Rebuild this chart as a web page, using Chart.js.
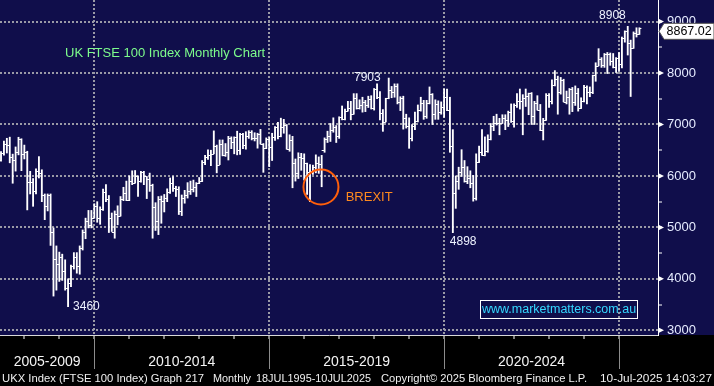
<!DOCTYPE html>
<html>
<head>
<meta charset="utf-8">
<script src="https://cdn.jsdelivr.net/npm/chart.js@4.4.1/dist/chart.umd.min.js"></script>
<style>
html,body{margin:0;padding:0;background:#000;overflow:hidden;}
canvas{display:block;}
</style>
</head>
<body>
<canvas id="chart" width="714" height="386"></canvas>
<script>
// ================= DATA =================
const months = [
'2007-04','2007-05','2007-06','2007-07','2007-08','2007-09','2007-10','2007-11','2007-12',
'2008-01','2008-02','2008-03','2008-04','2008-05','2008-06','2008-07','2008-08','2008-09','2008-10','2008-11','2008-12',
'2009-01','2009-02','2009-03','2009-04','2009-05','2009-06','2009-07','2009-08','2009-09','2009-10','2009-11','2009-12',
'2010-01','2010-02','2010-03','2010-04','2010-05','2010-06','2010-07','2010-08','2010-09','2010-10','2010-11','2010-12',
'2011-01','2011-02','2011-03','2011-04','2011-05','2011-06','2011-07','2011-08','2011-09','2011-10','2011-11','2011-12',
'2012-01','2012-02','2012-03','2012-04','2012-05','2012-06','2012-07','2012-08','2012-09','2012-10','2012-11','2012-12',
'2013-01','2013-02','2013-03','2013-04','2013-05','2013-06','2013-07','2013-08','2013-09','2013-10','2013-11','2013-12',
'2014-01','2014-02','2014-03','2014-04','2014-05','2014-06','2014-07','2014-08','2014-09','2014-10','2014-11','2014-12',
'2015-01','2015-02','2015-03','2015-04','2015-05','2015-06','2015-07','2015-08','2015-09','2015-10','2015-11','2015-12',
'2016-01','2016-02','2016-03','2016-04','2016-05','2016-06','2016-07','2016-08','2016-09','2016-10','2016-11','2016-12',
'2017-01','2017-02','2017-03','2017-04','2017-05','2017-06','2017-07','2017-08','2017-09','2017-10','2017-11','2017-12',
'2018-01','2018-02','2018-03','2018-04','2018-05','2018-06','2018-07','2018-08','2018-09','2018-10','2018-11','2018-12',
'2019-01','2019-02','2019-03','2019-04','2019-05','2019-06','2019-07','2019-08','2019-09','2019-10','2019-11','2019-12',
'2020-01','2020-02','2020-03','2020-04','2020-05','2020-06','2020-07','2020-08','2020-09','2020-10','2020-11','2020-12',
'2021-01','2021-02','2021-03','2021-04','2021-05','2021-06','2021-07','2021-08','2021-09','2021-10','2021-11','2021-12',
'2022-01','2022-02','2022-03','2022-04','2022-05','2022-06','2022-07','2022-08','2022-09','2022-10','2022-11','2022-12',
'2023-01','2023-02','2023-03','2023-04','2023-05','2023-06','2023-07','2023-08','2023-09','2023-10','2023-11','2023-12',
'2024-01','2024-02','2024-03','2024-04','2024-05','2024-06','2024-07','2024-08','2024-09','2024-10','2024-11','2024-12',
'2025-01','2025-02','2025-03','2025-04','2025-05','2025-06','2025-07'
];
const opens = [
6308,6449,6621,6608,6360,6303,6467,6722,6432,
6457,5880,5884,5702,6087,6053,5626,5412,5637,4902,4377,4288,
4434,4149,3830,3926,4244,4418,4249,4608,4909,5134,5045,5191,
5413,5189,5355,5680,5553,5188,4917,5258,5225,5549,5675,5528,
5900,5863,5994,5909,6070,5990,5946,5815,5395,5128,5544,5505,
5572,5682,5872,5768,5738,5321,5571,5635,5711,5742,5783,5867,
5898,6277,6361,6412,6430,6583,6215,6621,6413,6462,6731,6651,
6749,6510,6810,6598,6780,6845,6744,6730,6820,6623,6546,6723,
6566,6749,6947,6773,6961,6985,6521,6696,6248,6062,6361,6356,
6242,6084,6097,6175,6242,6231,6504,6724,6782,6899,6954,6784,
7143,7099,7263,7323,7204,7520,7313,7372,7431,7373,7493,7327,
7688,7534,7232,7057,7509,7678,7637,7749,7432,7510,7128,6980,
6728,6969,7075,7279,7418,7162,7426,7587,7207,7408,7248,7347,
7542,7286,6581,5672,5901,6077,6170,5898,5964,5866,5577,6266,
6461,6407,6483,6714,6970,7023,7037,7032,7120,7086,7238,7059,
7385,7464,7458,7516,7545,7608,7169,7423,7284,6894,7095,7573,
7452,7772,7876,7632,7871,7446,7532,7699,7439,7608,7322,7454,
7733,7631,7630,7953,8144,8275,8164,8368,8377,8237,8110,8287,
8173,8674,8810,8583,8495,8772,8761
];
const highs = [
6474,6680,6732,6754,6424,6564,6752,6723,6600,
6480,6090,5950,6140,6376,6120,5650,5650,5650,4990,4640,4520,
4480,4370,4000,4270,4510,4510,4640,4950,5180,5330,5330,5460,
5500,5400,5744,5830,5620,5280,5320,5420,5600,5780,5900,6000,
6100,6106,6000,6090,6090,5990,6055,5840,5480,5600,5610,5640,
5750,5960,5990,5800,5790,5630,5720,5870,5900,5920,5870,5970,
6300,6400,6510,6500,6876,6600,6700,6700,6630,6770,6760,6760,
6870,6830,6830,6860,6880,6880,6840,6830,6905,6630,6740,6750,
6830,6960,7040,7123,7100,7000,6800,6770,6330,6450,6440,6430,
6250,6220,6210,6410,6370,6400,6740,6870,7020,7130,6980,7150,
7360,7300,7450,7450,7600,7600,7480,7530,7470,7550,7560,7700,
7792,7640,7290,7510,7903,7740,7790,7790,7540,7550,7200,7130,
7000,7240,7380,7530,7470,7470,7730,7600,7480,7460,7440,7690,
7690,7530,6900,6000,6170,6510,6300,6180,6100,6010,6430,6580,
6900,6760,6800,7020,7160,7200,7120,7190,7190,7260,7400,7400,
7600,7690,7580,7690,7610,7620,7450,7560,7390,7120,7600,7600,
7870,8047,7940,7915,7880,7650,7700,7720,7750,7700,7520,7760,
7750,7730,7960,8200,8474,8300,8380,8400,8390,8380,8300,8400,
8700,8820,8908,8640,8800,8880,8880
];
const lows = [
6287,6404,6446,6255,5858,6094,6410,6103,6330,
5340,5650,5410,5650,5960,5500,5150,5320,4650,3665,3780,3950,
3970,3780,3460,3850,4190,4110,4090,4560,4780,4990,4990,5180,
5100,5060,5330,5500,4900,4920,4790,5050,5220,5520,5520,5520,
5830,5860,5600,5880,5830,5560,5700,4790,4940,4860,5080,5300,
5500,5660,5700,5600,5250,5230,5470,5570,5640,5690,5600,5850,
5890,6220,6320,6200,6430,6060,6220,6390,6380,6310,6530,6430,
6410,6420,6530,6520,6730,6700,6680,6540,6620,6070,6530,6180,
6300,6690,6720,6760,6830,6520,6480,5770,5900,5950,6110,5920,
5640,5500,6030,6060,6050,5790,6460,6650,6670,6850,6650,6730,
7090,7090,7260,7090,7200,7300,7300,7240,7250,7330,7300,7280,
7500,7090,6867,7050,7500,7520,7530,7400,7270,6910,6930,6537,
6680,6900,7050,7260,7100,7120,7400,7000,7100,7100,7200,7140,
7270,6460,4898,5370,5740,5990,5880,5850,5770,5510,5530,6260,
6400,6390,6460,6700,6880,6990,6800,7020,6900,6960,7040,6950,
7330,7300,6800,7350,7190,7000,7000,7280,6880,6700,7080,7330,
7400,7750,7200,7590,7440,7400,7200,7250,7370,7260,7310,7440,
7400,7540,7600,7840,8140,8110,8110,7990,8150,8100,8010,8030,
8100,8600,8350,7544,8480,8700,8750
];
const closes = [
6449,6621,6608,6360,6303,6467,6722,6432,6457,
5880,5884,5702,6087,6053,5626,5412,5637,4902,4377,4288,4434,
4149,3830,3926,4244,4418,4249,4608,4909,5134,5045,5191,5413,
5189,5355,5680,5553,5188,4917,5258,5225,5549,5675,5528,5900,
5863,5994,5909,6070,5990,5946,5815,5395,5128,5544,5505,5572,
5682,5872,5768,5738,5321,5571,5635,5711,5742,5783,5867,5898,
6277,6361,6412,6430,6583,6215,6621,6413,6462,6731,6651,6749,
6510,6810,6598,6780,6845,6744,6730,6820,6623,6546,6723,6566,
6749,6947,6773,6961,6985,6521,6696,6248,6062,6361,6356,6242,
6084,6097,6175,6242,6231,6504,6724,6782,6899,6954,6784,7143,
7099,7263,7323,7204,7520,7313,7372,7431,7373,7493,7327,7688,
7534,7232,7057,7509,7678,7637,7749,7432,7510,7128,6980,6728,
6969,7075,7279,7418,7162,7426,7587,7207,7408,7248,7347,7542,
7286,6581,5672,5901,6077,6170,5898,5964,5866,5577,6266,6461,
6407,6483,6714,6970,7023,7037,7032,7120,7086,7238,7059,7385,
7464,7458,7516,7545,7608,7169,7423,7284,6894,7095,7573,7452,
7772,7876,7632,7871,7446,7532,7699,7439,7608,7322,7454,7733,
7631,7630,7953,8144,8275,8164,8368,8377,8237,8110,8287,8173,
8674,8810,8583,8495,8772,8761,8867
];
const yMajorTicks = [3000,4000,5000,6000,7000,8000,9000];
const yMinorTicks = [3500,4500,5500,6500,7500,8500];
const yearTicks = [2008,2009,2010,2011,2012,2013,2014,2015,2016,2017,2018,2019,2020,2021,2022,2023,2024,2025];
const periodLabels = ['2005-2009','2010-2014','2015-2019','2020-2024'];
const periodStartYears = [2005,2010,2015,2020];
const extremeLabels = ['3460','7903','4898','8908'];
const extremeMonths = ['2009-03','2018-05','2020-03','2025-03'];
const extremeValues = [3460,7903,4898,8908];
const lastPrice = 8867.02;
const chartTitle = 'UK FTSE 100 Index Monthly Chart';
const eventLabel = 'BREXIT';
const eventMonth = '2016-06';
const eventValue = 5785;
const watermark = 'www.marketmatters.com.au';
const footerParts = ['UKX Index (FTSE 100 Index) Graph 217','Monthly','18JUL1995-10JUL2025','Copyright\u00A9 2025 Bloomberg Finance L.P.','10-Jul-2025 14:03:27'];

// ================= HELPERS =================
const BASE_YEAR = 2010;
function monthPos(m){ const p = m.split('-').map(Number); return (p[0]-BASE_YEAR)*12 + p[1]; } // month-end position
function yearPos(y){ return (y-BASE_YEAR)*12; }
const X_MIN = -32.35, X_MAX = 193.38;
const Y_MIN = 2908.6, Y_MAX = 9419.8;
const NAVY = '#100e4b';
const GRID = '#9a9aa6';
const FONT = "'Liberation Sans', Arial, sans-serif";
Chart.defaults.font.family = FONT;

const periodCenters = periodStartYears.map(y => {
  const a = Math.max(yearPos(y), X_MIN), b = Math.min(yearPos(y+5), X_MAX);
  return (a+b)/2;
});
const xTickValues = yearTicks.map(yearPos).concat(periodCenters).sort((a,b)=>a-b);
const isFiveYear = v => yearTicks.some(y => yearPos(y) === v && y % 5 === 0);
const isYearTick = v => yearTicks.some(y => yearPos(y) === v);

function fitText(ctx, text, x0, x1, y){
  const w = ctx.measureText(text).width;
  ctx.save(); ctx.translate(x0, y); ctx.scale((x1-x0)/w, 1); ctx.fillText(text, 0, 0); ctx.restore();
}

const decor = {
  id: 'decor',
  beforeDraw(chart){
    const ctx = chart.ctx, a = chart.chartArea;
    ctx.save();
    ctx.fillStyle = '#000'; ctx.fillRect(0,0,chart.width,chart.height);
    ctx.fillStyle = NAVY; ctx.fillRect(0,0,chart.width,a.bottom);
    ctx.restore();
  },
  afterDatasetsDraw(chart){
    const ctx = chart.ctx, a = chart.chartArea, xs = chart.scales.x, ys = chart.scales.y;
    ctx.save();
    ctx.beginPath(); ctx.rect(a.left, a.top, a.right-a.left, a.bottom-a.top); ctx.clip();
    ctx.strokeStyle = '#ffffff'; ctx.lineWidth = 1;
    ctx.beginPath();
    months.forEach((m,i) => {
      const x = xs.getPixelForValue(monthPos(m));
      const yo = Math.round(ys.getPixelForValue(opens[i])) + 0.5;
      const yc = Math.round(ys.getPixelForValue(closes[i])) + 0.5;
      ctx.moveTo(x-2, yo); ctx.lineTo(x, yo);
      ctx.moveTo(x, yc); ctx.lineTo(x+2, yc);
    });
    ctx.stroke();
    ctx.restore();
  },
  afterDraw(chart){
    const ctx = chart.ctx, a = chart.chartArea, xs = chart.scales.x, ys = chart.scales.y;
    ctx.save();
    // five-year separators in the date band
    ctx.strokeStyle = '#8c8c8c'; ctx.lineWidth = 1;
    yearTicks.filter(y => y % 5 === 0).forEach(y => {
      const x = Math.round(xs.getPixelForValue(yearPos(y))) + 0.5;
      ctx.beginPath(); ctx.moveTo(x, a.bottom+1); ctx.lineTo(x, a.bottom+34); ctx.stroke();
    });
    // right axis pointers
    ctx.fillStyle = '#ffffff';
    yMajorTicks.forEach(v => {
      const y = ys.getPixelForValue(v);
      ctx.beginPath(); ctx.moveTo(a.right, y-3); ctx.lineTo(a.right+6, y); ctx.lineTo(a.right, y+3); ctx.closePath(); ctx.fill();
    });
    // last price box
    const yp = ys.getPixelForValue(lastPrice) + 2.9;
    ctx.beginPath();
    ctx.moveTo(a.right+1, yp); ctx.lineTo(a.right+6, yp-8); ctx.lineTo(chart.width, yp-8);
    ctx.lineTo(chart.width, yp+8); ctx.lineTo(a.right+6, yp+8); ctx.closePath();
    ctx.fillStyle = '#ffffff'; ctx.fill();
    ctx.strokeStyle = '#555'; ctx.lineWidth = 1; ctx.stroke();
    ctx.fillStyle = '#000'; ctx.font = '12.5px ' + FONT; ctx.textAlign = 'left'; ctx.textBaseline = 'middle';
    ctx.fillText(lastPrice.toFixed(2), a.right+8.5, yp+0.5);

    // title
    ctx.fillStyle = '#7dfc8c'; ctx.font = '13px ' + FONT; ctx.textBaseline = 'alphabetic'; ctx.textAlign = 'left';
    ctx.fillText(chartTitle, 65, 56.5);

    // extreme labels
    ctx.fillStyle = '#eef2ff'; ctx.font = '12px ' + FONT;
    const offs = [[5,0,'left'],[-8,0,'right'],[-3,9,'left'],[-2,-11,'right']];
    extremeLabels.forEach((t,i) => {
      const x = xs.getPixelForValue(monthPos(extremeMonths[i]));
      const y = ys.getPixelForValue(extremeValues[i]);
      ctx.textAlign = offs[i][2]; ctx.textBaseline = 'middle';
      ctx.fillText(t, x + offs[i][0], y + offs[i][1]);
    });

    // BREXIT circle
    const cx = xs.getPixelForValue(monthPos(eventMonth)) - 0.7, cy = ys.getPixelForValue(eventValue);
    ctx.strokeStyle = '#ff5f0a'; ctx.lineWidth = 2;
    ctx.beginPath(); ctx.arc(cx, cy, 17.5, 0, Math.PI*2); ctx.stroke();
    ctx.fillStyle = '#ff8a1e'; ctx.font = '13px ' + FONT; ctx.textAlign = 'left'; ctx.textBaseline = 'middle';
    ctx.fillText(eventLabel, cx + 24.7, cy + 10.5);

    // watermark
    ctx.strokeStyle = '#ffffff'; ctx.lineWidth = 1;
    ctx.strokeRect(480.5, 300.5, 157, 18);
    ctx.fillStyle = '#35d8ff'; ctx.font = '12.5px ' + FONT; ctx.textAlign = 'center'; ctx.textBaseline = 'middle';
    ctx.fillText(watermark, 559, 310);

    // footer
    ctx.fillStyle = '#f0f0f0'; ctx.font = '11.5px ' + FONT; ctx.textAlign = 'left'; ctx.textBaseline = 'middle';
    const spans = [[2,204],[213,251],[256,371],[381,587],[600,712]];
    footerParts.forEach((t,i) => fitText(ctx, t, spans[i][0], spans[i][1], 379));
    ctx.restore();
  }
};

new Chart(document.getElementById('chart'), {
  type: 'bar',
  data: {
    datasets: [{
      data: months.map((m,i) => ({ x: monthPos(m), y: [lows[i], highs[i]] })),
      backgroundColor: '#ffffff',
      borderWidth: 0,
      barThickness: 1.2,
      grouped: false
    }]
  },
  options: {
    responsive: false,
    animation: false,
    devicePixelRatio: 1,
    layout: { padding: 0, autoPadding: false },
    plugins: { legend: { display: false }, tooltip: { enabled: false }, title: { display: false } },
    scales: {
      x: {
        type: 'linear', min: X_MIN, max: X_MAX, offset: false,
        afterBuildTicks: s => { s.ticks = xTickValues.map(v => ({ value: v })); },
        afterFit: s => { s.height = 51; s.paddingLeft = 0; s.paddingRight = 0; s.paddingTop = 0; s.paddingBottom = 0; },
        grid: {
          offset: false, drawOnChartArea: true, drawTicks: true, tickLength: 4, lineWidth: 2,
          color: c => (c.tick && isFiveYear(c.tick.value)) ? GRID : 'rgba(0,0,0,0)',
          tickColor: c => (c.tick && isYearTick(c.tick.value)) ? '#ffffff' : 'rgba(0,0,0,0)',
          tickWidth: 1
        },
        border: { display: true, color: '#d8d8d8', width: 1, dash: [2,2] },
        ticks: {
          autoSkip: false, maxRotation: 0, minRotation: 0, padding: 15,
          color: '#f4f4f4', font: { size: 14 },
          callback: v => { const k = periodCenters.indexOf(v); return k >= 0 ? periodLabels[k] : ''; }
        }
      },
      y: {
        type: 'linear', position: 'right', min: Y_MIN, max: Y_MAX,
        afterBuildTicks: s => { s.ticks = yMajorTicks.concat(yMinorTicks).sort((a,b)=>a-b).map(v => ({ value: v })); },
        afterFit: s => { s.width = 56; s.paddingTop = 0; s.paddingBottom = 0; s.paddingLeft = 0; s.paddingRight = 0; },
        grid: {
          drawOnChartArea: true, drawTicks: true, tickLength: 4, lineWidth: 2,
          color: c => (c.tick && yMajorTicks.includes(c.tick.value)) ? GRID : 'rgba(0,0,0,0)',
          tickColor: '#ffffff', tickWidth: 1
        },
        border: { display: true, color: '#ffffff', width: 1, dash: [2,2] },
        ticks: {
          autoSkip: false, padding: 5, color: '#e6ecff', font: { size: 13 },
          callback: v => yMajorTicks.includes(v) ? String(v) : ''
        }
      }
    }
  },
  plugins: [decor]
});
</script>
</body>
</html>
